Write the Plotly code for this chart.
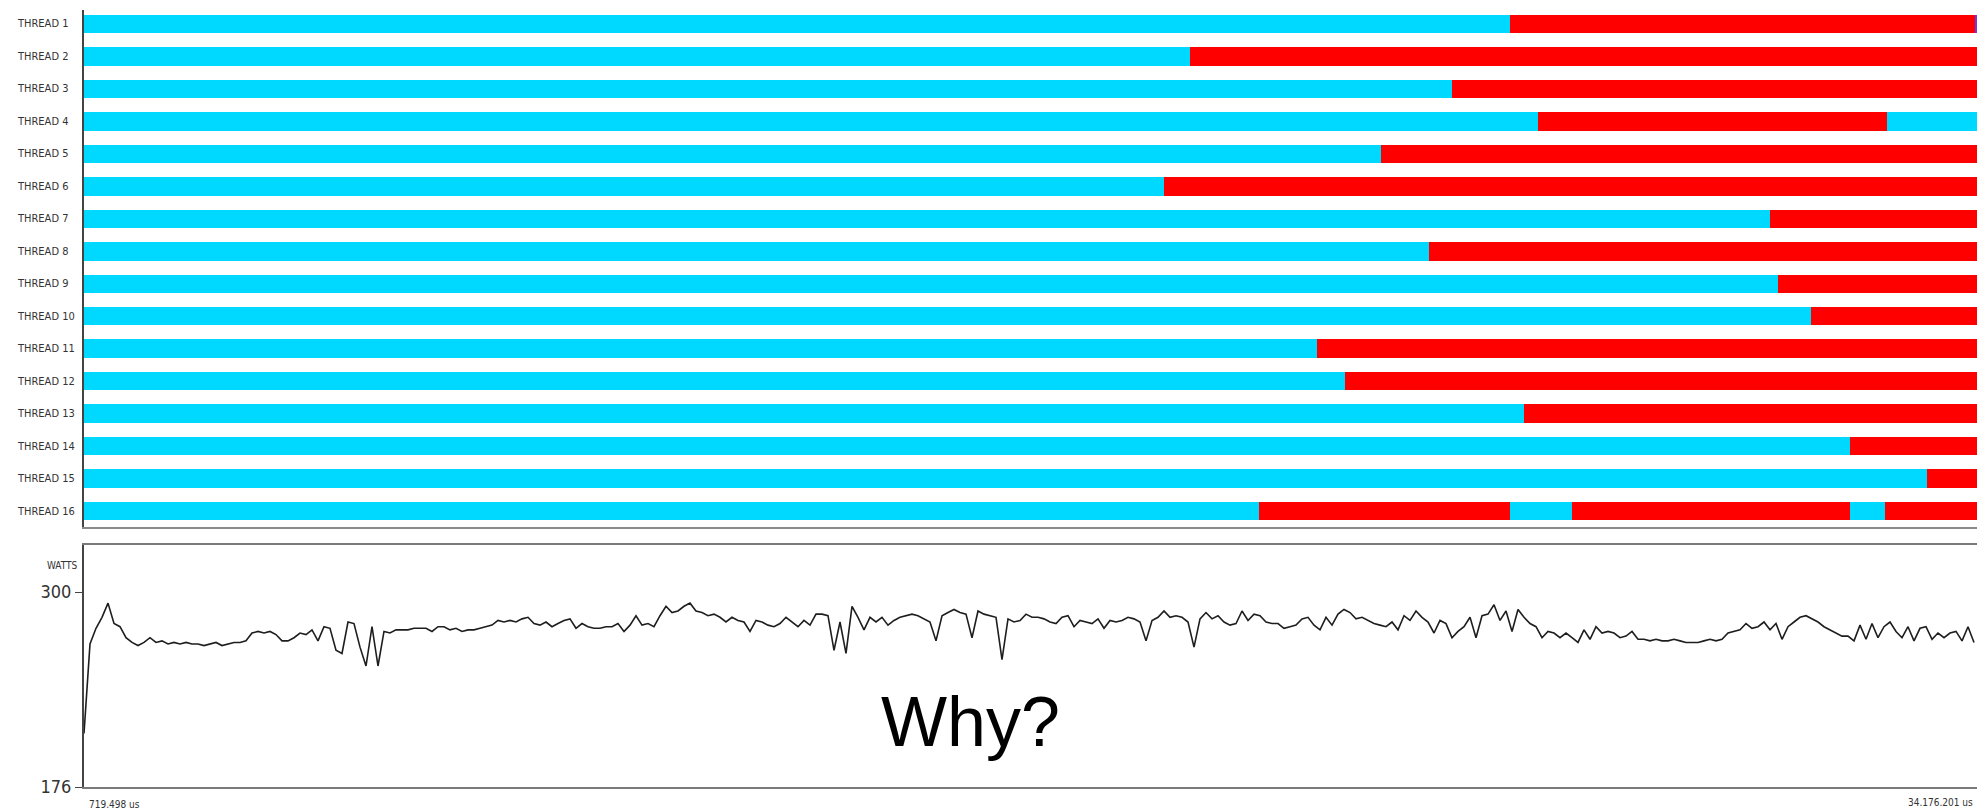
import plotly.graph_objects as go

# ---------------- data ----------------
t_start_us = 719498
t_end_us = 34176201

thread_labels = ["THREAD 1", "THREAD 2", "THREAD 3", "THREAD 4", "THREAD 5", "THREAD 6",
                 "THREAD 7", "THREAD 8", "THREAD 9", "THREAD 10", "THREAD 11", "THREAD 12",
                 "THREAD 13", "THREAD 14", "THREAD 15", "THREAD 16"]

# state segments per thread (busy = cyan, idle = red, mark = purple)
seg_thread = [1, 1, 1,
              2, 2,
              3, 3,
              4, 4, 4,
              5, 5,
              6, 6,
              7, 7,
              8, 8,
              9, 9,
              10, 10,
              11, 11,
              12, 12,
              13, 13,
              14, 14,
              15, 15,
              16, 16, 16, 16, 16, 16]
seg_state = ["busy", "idle", "mark",
             "busy", "idle",
             "busy", "idle",
             "busy", "idle", "busy",
             "busy", "idle",
             "busy", "idle",
             "busy", "idle",
             "busy", "idle",
             "busy", "idle",
             "busy", "idle",
             "busy", "idle",
             "busy", "idle",
             "busy", "idle",
             "busy", "idle",
             "busy", "idle",
             "busy", "idle", "busy", "idle", "busy", "idle"]
seg_start = [719498, 25920000, 34140000,
             719498, 20270000,
             719498, 24900000,
             719498, 26420000, 32590000,
             719498, 23640000,
             719498, 19810000,
             719498, 30520000,
             719498, 24490000,
             719498, 30660000,
             719498, 31240000,
             719498, 22510000,
             719498, 23010000,
             719498, 26170000,
             719498, 31930000,
             719498, 33290000,
             719498, 21490000, 25920000, 27020000, 31930000, 32550000]
seg_end = [25920000, 34140000, 34176201,
           20270000, 34176201,
           24900000, 34176201,
           26420000, 32590000, 34176201,
           23640000, 34176201,
           19810000, 34176201,
           30520000, 34176201,
           24490000, 34176201,
           30660000, 34176201,
           31240000, 34176201,
           22510000, 34176201,
           23010000, 34176201,
           26170000, 34176201,
           31930000, 34176201,
           33290000, 34176201,
           21490000, 25920000, 27020000, 31930000, 32550000, 34176201]

state_colors = {"busy": "#00D9FF", "idle": "#FF0000", "mark": "#6A3BE0"}

# power samples (watts), one every sample_step_us starting at t_start_us
sample_step_us = 106044
watts = [
    210, 267, 277, 284, 293, 280, 278, 271, 268, 266, 268, 271, 268, 269, 267, 268, 267, 268, 267, 267,
    266, 267, 268, 266, 267, 268, 268, 269, 274, 275, 274, 275, 273, 269, 269, 271, 274, 273, 276, 269,
    278, 277, 263, 261, 281, 280, 265, 253, 278, 253, 275, 274, 276, 276, 276, 277, 277, 277, 275, 278,
    278, 276, 277, 275, 276, 276, 277, 278, 279, 282, 281, 282, 281, 283, 284, 280, 279, 281, 278, 280,
    282, 283, 277, 280, 278, 277, 277, 278, 278, 280, 275, 279, 285, 279, 280, 278, 285, 291, 287, 288,
    291, 293, 288, 287, 285, 286, 284, 281, 284, 282, 281, 275, 282, 281, 279, 278, 280, 284, 281, 278,
    282, 279, 286, 286, 285, 263, 281, 261, 291, 284, 276, 284, 281, 284, 279, 282, 284, 285, 286, 285,
    283, 281, 269, 285, 287, 289, 287, 286, 271, 288, 286, 285, 284, 257, 283, 281, 282, 286,
    284, 284, 283, 281, 280, 284, 285, 278, 282, 281, 280, 283, 277, 282, 281, 282, 284, 283, 281, 269,
    282, 284, 288, 284, 285, 284, 281, 265, 283, 287, 283, 285, 281, 279, 280, 288, 282, 286, 285, 281,
    280, 280, 277, 278, 279, 283, 284, 279, 276, 284, 279, 286, 289, 287, 283, 284, 282, 280, 279, 278,
    281, 276, 285, 282, 288, 284, 281, 274, 282, 280, 271, 275, 278, 284, 271, 285, 286, 292,
    282, 288, 275, 289, 284, 280, 278, 271, 275, 274, 271, 274, 271, 268, 276, 270, 278, 274, 275, 274,
    271, 272, 275, 270, 270, 269, 270, 269, 269, 270, 269, 268, 268, 268, 269, 270, 269, 270, 274, 275,
    276, 280, 277, 278, 281, 276, 280, 270, 278, 281, 284, 285, 283, 281, 278, 276, 274, 272, 272, 269,
    279, 270, 280, 271, 278, 281, 275, 271, 278, 269, 277, 278, 270, 274, 271, 274, 275, 269, 278, 268,
]
power_times = [t_start_us + i * sample_step_us for i in range(len(watts))]

watts_ticks = [176, 300]
x_end_labels = ["719.498 us", "34.176.201 us"]

# ---------------- figure ----------------
W, H = 1988, 811
ml, mr, mt, mb = 84, 11, 10, 24
plot_w = W - ml - mr
plot_h = H - mt - mb

def px_to_paper_x(px):
    return (px - ml) / plot_w

def px_to_paper_y(py):
    return (H - mb - py) / plot_h

narrow = "Liberation Sans Narrow, DejaVu Sans Condensed, Arial Narrow, sans-serif"

fig = go.Figure()

for state in ["busy", "idle", "mark"]:
    idx = [i for i, s in enumerate(seg_state) if s == state]
    fig.add_trace(go.Bar(
        orientation="h",
        y=[seg_thread[i] for i in idx],
        x=[seg_end[i] - seg_start[i] for i in idx],
        base=[seg_start[i] for i in idx],
        marker=dict(color=state_colors[state], line=dict(width=0)),
        width=0.57,
        xaxis="x", yaxis="y",
        showlegend=False,
        hoverinfo="skip",
    ))

fig.add_trace(go.Scatter(
    x=power_times, y=watts, mode="lines",
    line=dict(color="#1e1e1e", width=1.6, shape="linear"),
    xaxis="x2", yaxis="y2", showlegend=False, hoverinfo="skip",
))

annotations = []
for i, lab in enumerate(thread_labels):
    annotations.append(dict(
        text=lab, xref="paper", yref="y", x=px_to_paper_x(15), y=i + 1,
        xanchor="left", yanchor="middle", showarrow=False,
        font=dict(family=narrow, size=11, color="#333333"),
    ))
annotations.append(dict(
    text="WATTS", xref="paper", yref="paper", x=px_to_paper_x(80), y=px_to_paper_y(565),
    xanchor="right", yanchor="middle", showarrow=False,
    font=dict(family=narrow, size=10, color="#333333"),
))
annotations.append(dict(
    text=x_end_labels[0], xref="paper", yref="paper", x=px_to_paper_x(87), y=px_to_paper_y(804),
    xanchor="left", yanchor="middle", showarrow=False,
    font=dict(family=narrow, size=10, color="#333333"),
))
annotations.append(dict(
    text=x_end_labels[1], xref="paper", yref="paper", x=px_to_paper_x(1975), y=px_to_paper_y(802),
    xanchor="right", yanchor="middle", showarrow=False,
    font=dict(family=narrow, size=10, color="#333333"),
))
annotations.append(dict(
    text="Why?", xref="paper", yref="paper", x=px_to_paper_x(970), y=px_to_paper_y(722),
    xanchor="center", yanchor="middle", showarrow=False,
    font=dict(family="Liberation Sans, Arial, sans-serif", size=70, color="#000000"),
))

fig.update_layout(
    width=W, height=H,
    margin=dict(l=ml, r=mr, t=mt, b=mb),
    paper_bgcolor="white", plot_bgcolor="white",
    barmode="overlay", bargap=0,
    showlegend=False,
    annotations=annotations,
    xaxis=dict(domain=[0, 1], range=[t_start_us, t_end_us], anchor="y",
               showticklabels=False, showgrid=False, zeroline=False, ticks="",
               showline=True, linecolor="#8a8a8a", linewidth=2),
    yaxis=dict(domain=[px_to_paper_y(527), 1], range=[16.49, 0.57], anchor="x",
               showticklabels=False, showgrid=False, zeroline=False, ticks="",
               showline=True, linecolor="#444444", linewidth=2),
    xaxis2=dict(domain=[0, 1], range=[t_start_us, t_end_us], anchor="y2",
                showticklabels=False, showgrid=False, zeroline=False, ticks="",
                showline=True, mirror=True, linecolor="#7a7a7a", linewidth=2),
    yaxis2=dict(domain=[0, px_to_paper_y(545)], range=[176, 330], anchor="x2",
                tickvals=watts_ticks, ticktext=[str(v) for v in watts_ticks],
                ticks="outside", ticklen=7, tickcolor="#444444", tickwidth=1,
                tickfont=dict(family=narrow, size=18, color="#333333"),
                showgrid=False, zeroline=False,
                showline=True, linecolor="#444444", linewidth=2),
)

fig.write_html("out.html")
